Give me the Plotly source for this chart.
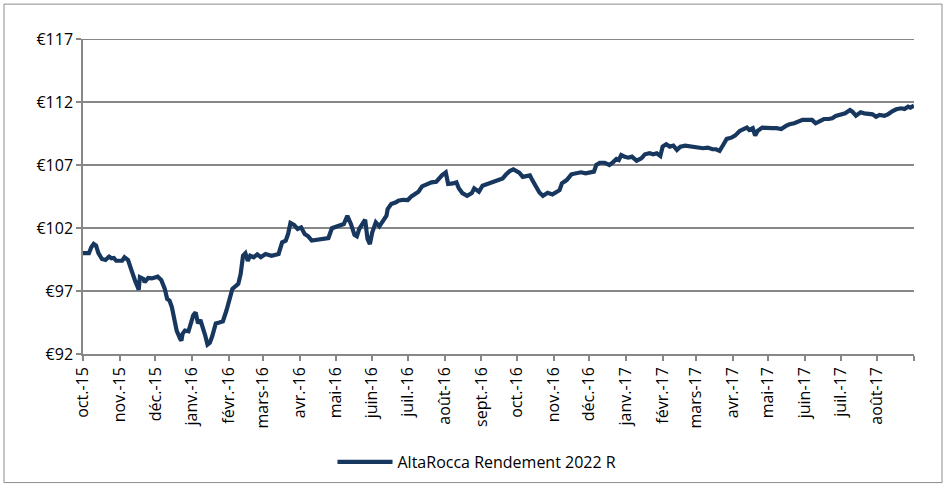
import pandas as pd
import plotly.graph_objects as go

# Net asset value of the fund (EUR), one reading per date
nav_dates = [
    "2015-10-01", "2015-10-06", "2015-10-08", "2015-10-10", "2015-10-12", "2015-10-14",
    "2015-10-17", "2015-10-20", "2015-10-23", "2015-10-25", "2015-10-27", "2015-10-29",
    "2015-11-01", "2015-11-03", "2015-11-05", "2015-11-08", "2015-11-10", "2015-11-12",
    "2015-11-14", "2015-11-16", "2015-11-17", "2015-11-18", "2015-11-21", "2015-11-22",
    "2015-11-25", "2015-11-28", "2015-12-01", "2015-12-03", "2015-12-06", "2015-12-09",
    "2015-12-11", "2015-12-13", "2015-12-15", "2015-12-17", "2015-12-19", "2015-12-22",
    "2015-12-23", "2015-12-24", "2015-12-26", "2015-12-29", "2015-12-31", "2016-01-02",
    "2016-01-04", "2016-01-06", "2016-01-08", "2016-01-10", "2016-01-12", "2016-01-14",
    "2016-01-16", "2016-01-18", "2016-01-21", "2016-01-24", "2016-01-27", "2016-01-30",
    "2016-01-31", "2016-02-02", "2016-02-04", "2016-02-07", "2016-02-09", "2016-02-11",
    "2016-02-13", "2016-02-15", "2016-02-17", "2016-02-19", "2016-02-22", "2016-02-25",
    "2016-02-28", "2016-03-03", "2016-03-08", "2016-03-14", "2016-03-17", "2016-03-20",
    "2016-03-22", "2016-03-24", "2016-03-27", "2016-03-30", "2016-04-02", "2016-04-05",
    "2016-04-08", "2016-04-11", "2016-04-15", "2016-04-19", "2016-04-22", "2016-04-25",
    "2016-04-28", "2016-05-01", "2016-05-04", "2016-05-08", "2016-05-11", "2016-05-14",
    "2016-05-17", "2016-05-19", "2016-05-21", "2016-05-24", "2016-05-26", "2016-05-28",
    "2016-05-30", "2016-06-01", "2016-06-04", "2016-06-07", "2016-06-10", "2016-06-13",
    "2016-06-14", "2016-06-17", "2016-06-21", "2016-06-23", "2016-06-27", "2016-07-01",
    "2016-07-04", "2016-07-07", "2016-07-10", "2016-07-13", "2016-07-17", "2016-07-21",
    "2016-07-25", "2016-07-27", "2016-07-30", "2016-08-02", "2016-08-04", "2016-08-08",
    "2016-08-11", "2016-08-13", "2016-08-16", "2016-08-20", "2016-08-24", "2016-08-26",
    "2016-08-30", "2016-09-02", "2016-09-08", "2016-09-11", "2016-09-15", "2016-09-19",
    "2016-09-22", "2016-09-25", "2016-09-28", "2016-10-01", "2016-10-03", "2016-10-06",
    "2016-10-09", "2016-10-12", "2016-10-14", "2016-10-17", "2016-10-20", "2016-10-23",
    "2016-10-27", "2016-10-31", "2016-11-03", "2016-11-06", "2016-11-08", "2016-11-12",
    "2016-11-16", "2016-11-20", "2016-11-24", "2016-11-28", "2016-12-01", "2016-12-05",
    "2016-12-07", "2016-12-10", "2016-12-14", "2016-12-18", "2016-12-21", "2016-12-24",
    "2016-12-26", "2016-12-28", "2016-12-31", "2017-01-03", "2017-01-06", "2017-01-10",
    "2017-01-14", "2017-01-17", "2017-01-21", "2017-01-24", "2017-01-27", "2017-01-30",
    "2017-02-01", "2017-02-04", "2017-02-07", "2017-02-10", "2017-02-13", "2017-02-16",
    "2017-02-20", "2017-02-23", "2017-02-27", "2017-03-03", "2017-03-07", "2017-03-11",
    "2017-03-15", "2017-03-18", "2017-03-21", "2017-03-24", "2017-03-27", "2017-03-31",
    "2017-04-03", "2017-04-07", "2017-04-10", "2017-04-13", "2017-04-15", "2017-04-18",
    "2017-04-20", "2017-04-22", "2017-04-26", "2017-04-29", "2017-05-04", "2017-05-08",
    "2017-05-12", "2017-05-16", "2017-05-19", "2017-05-23", "2017-05-27", "2017-05-30",
    "2017-06-03", "2017-06-07", "2017-06-10", "2017-06-14", "2017-06-17", "2017-06-21",
    "2017-06-24", "2017-06-27", "2017-07-02", "2017-07-05", "2017-07-09", "2017-07-11",
    "2017-07-14", "2017-07-18", "2017-07-21", "2017-07-25", "2017-07-28", "2017-07-31",
    "2017-08-03", "2017-08-07", "2017-08-10", "2017-08-14", "2017-08-17", "2017-08-21",
    "2017-08-24", "2017-08-27", "2017-08-29", "2017-09-01",
]

nav_values = [
    100.0, 100.0, 100.47, 100.73, 100.6, 100.0,
    99.54, 99.46, 99.73, 99.6, 99.62, 99.4,
    99.4, 99.4, 99.68, 99.46, 98.9, 98.2,
    97.8, 97.35, 97.1, 98.1, 97.96, 97.7,
    98.04, 98.0, 98.1, 98.14, 97.88, 97.17,
    96.37, 96.24, 95.7, 94.9, 93.86, 93.2,
    93.06, 93.6, 93.86, 93.8, 94.34, 95.07,
    95.3, 94.44, 94.7, 94.17, 93.5, 92.75,
    92.9, 93.4, 94.43, 94.5, 94.6, 95.45,
    95.76, 96.63, 97.17, 97.4, 97.56, 98.35,
    99.8, 100.0, 99.4, 99.8, 99.68, 99.9,
    99.68, 99.94, 99.8, 99.94, 100.87, 101.0,
    101.52, 102.4, 102.24, 101.92, 102.05, 101.52,
    101.34, 101.0, 101.07, 101.13, 101.18, 101.2,
    101.98, 102.1, 102.13, 102.32, 102.97, 102.32,
    101.45, 101.34, 101.92, 102.32, 102.66, 101.13,
    100.73, 101.66, 102.45, 102.13, 102.58, 102.97,
    103.5, 103.9, 104.04, 104.16, 104.24, 104.22,
    104.51, 104.7, 104.88, 105.3, 105.49, 105.62,
    105.67, 105.94, 106.2, 106.41, 105.49, 105.54,
    105.62, 105.15, 104.77, 104.56, 104.77, 105.15,
    104.88, 105.35, 105.55, 105.68, 105.8, 105.94,
    106.26, 106.52, 106.65, 106.46, 106.4, 106.06,
    106.1, 106.18, 105.8, 105.27, 104.82, 104.56,
    104.8, 104.67, 104.82, 105.0, 105.55, 105.8,
    106.26, 106.34, 106.42, 106.34, 106.42, 106.47,
    107.0, 107.18, 107.18, 107.0, 107.21, 107.48,
    107.4, 107.79, 107.66, 107.58, 107.66, 107.34,
    107.53, 107.85, 107.93, 107.85, 107.93, 107.72,
    108.46, 108.65, 108.46, 108.54, 108.2, 108.46,
    108.54, 108.5, 108.46, 108.46, 108.33, 108.38,
    108.25, 108.25, 108.12, 108.59, 109.07, 109.17,
    109.33, 109.7, 109.86, 109.97, 109.78, 109.92,
    109.33, 109.7, 109.97, 109.92, 109.92, 109.92,
    109.86, 110.1, 110.23, 110.31, 110.44, 110.58,
    110.58, 110.58, 110.31, 110.52, 110.65, 110.65,
    110.71, 110.89, 110.97, 111.1, 111.36, 111.23,
    110.91, 111.18, 111.1, 111.05, 111.02, 110.83,
    110.97, 110.91, 111.02, 111.28, 111.42, 111.5,
    111.45, 111.63, 111.55, 111.71,
]

series_name = "AltaRocca Rendement 2022 R"

# Y axis ticks (EUR)
y_ticks = [92, 97, 102, 107, 112, 117]

# French month abbreviations used in the date axis labels
months_fr = ["janv.", "févr.", "mars", "avr.", "mai", "juin",
             "juil.", "août", "sept.", "oct.", "nov.", "déc."]
axis_start, axis_end = "2015-10-01", "2017-09-01"

tick_dates = pd.date_range(axis_start, axis_end, freq="MS")
tick_text = [f"{months_fr[d.month - 1]}-{d.strftime('%y')}" for d in tick_dates]
tick_text[-1] = ""  # closing tick carries no label

GRID = "#878787"
NAVY = "#17375e"
FONT = "Open Sans"
FS = 16

fig = go.Figure()
fig.add_trace(go.Scatter(
    x=pd.to_datetime(nav_dates), y=nav_values, mode="lines", name=series_name,
    line=dict(color=NAVY, width=4.2),
))

W, H = 949, 489
ML, MR, MT, MB = 83, 35, 39, 134
pw, ph = W - ML - MR, H - MT - MB


def px_x(p):
    return (p - ML) / pw


def px_y(p):
    return (H - MB - p) / ph


fig.update_layout(
    width=W, height=H,
    margin=dict(l=ML, r=MR, t=MT, b=MB),
    paper_bgcolor="white", plot_bgcolor="white",
    font=dict(family=FONT, size=FS, color="#000000"),
    showlegend=True,
    legend=dict(
        orientation="h", x=px_x(477), xanchor="center", y=px_y(462), yanchor="middle",
        itemwidth=55,
        font=dict(family=FONT, size=FS, color="#000000"), bgcolor="rgba(0,0,0,0)",
    ),
    xaxis=dict(
        type="date", range=[axis_start, axis_end],
        tickvals=tick_dates, ticktext=tick_text, tickangle=-90,
        showgrid=False, showline=True, linecolor=GRID, linewidth=1.5,
        ticks="outside", ticklen=5, tickcolor=GRID, tickwidth=1.5,
        tickfont=dict(family=FONT, size=FS, color="#000000"),
        zeroline=False,
    ),
    yaxis=dict(
        range=[y_ticks[0], y_ticks[-1]], tickvals=y_ticks,
        ticktext=[f"€{v}" for v in y_ticks],
        showgrid=True, gridcolor=GRID, gridwidth=2,
        showline=True, linecolor=GRID, linewidth=1.5,
        ticks="outside", ticklen=5, tickcolor=GRID, tickwidth=1.5,
        tickfont=dict(family=FONT, size=FS, color="#000000"),
        zeroline=False,
    ),
    shapes=[
        # outer chart frame
        dict(type="rect", xref="paper", yref="paper",
             x0=px_x(4), x1=px_x(942), y0=px_y(484), y1=px_y(4),
             line=dict(color="#8c8c8c", width=1), fillcolor="rgba(0,0,0,0)", layer="below"),
        # top gridline at the axis maximum
        dict(type="line", xref="paper", yref="y", x0=0, x1=1,
             y0=y_ticks[-1], y1=y_ticks[-1], line=dict(color=GRID, width=2), layer="below"),
    ],
)

fig.write_html("out.html")
